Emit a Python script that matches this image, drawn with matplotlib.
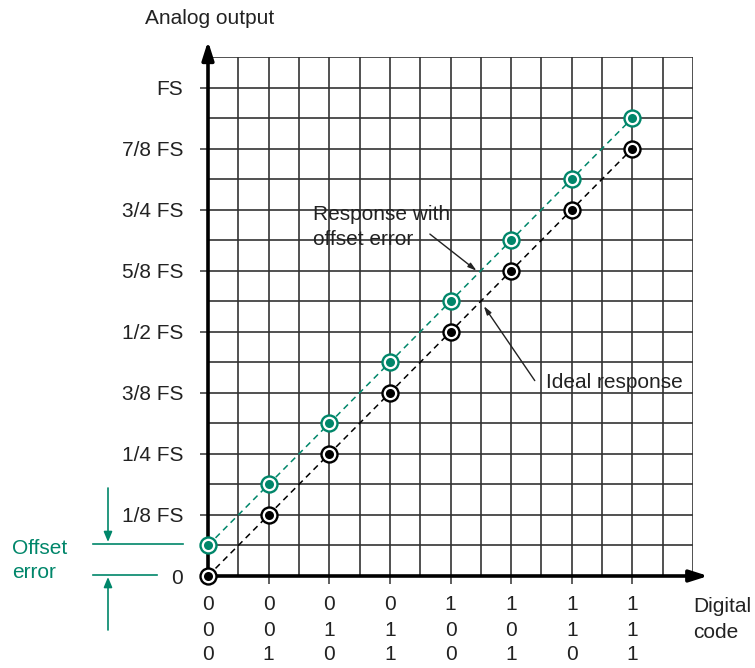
import matplotlib
matplotlib.use("Agg")
import matplotlib.pyplot as plt
from matplotlib.patches import FancyArrowPatch
from matplotlib.lines import Line2D
from matplotlib.transforms import blended_transform_factory

plt.rcParams['font.family'] = ['Liberation Sans', 'DejaVu Sans']

# Digital codes (3-bit) and outputs in units of 1/8 FS
codes = ["000", "001", "010", "011", "100", "101", "110", "111"]
ideal_output = [0, 1, 2, 3, 4, 5, 6, 7]
offset_output = [0.5, 1.5, 2.5, 3.5, 4.5, 5.5, 6.5, 7.5]
y_tick_labels = ["0", "1/8 FS", "1/4 FS", "3/8 FS", "1/2 FS",
                 "5/8 FS", "3/4 FS", "7/8 FS", "FS"]

TEAL = "#00866a"
TXT = "#222222"
FS_TXT = 15

W, H = 755, 668
fig = plt.figure(figsize=(W / 100, H / 100), dpi=100)
x0, x1, y0, y1 = 208, 693, 576, 57
ax = fig.add_axes([x0 / W, (H - y0) / H, (x1 - x0) / W, (y0 - y1) / H])
ax.set_xlim(0, 8)
ax.set_ylim(0, 8.5)
for s in ax.spines.values():
    s.set_visible(False)


def fx(px):
    return px / W


def fy(py):
    return 1 - py / H


# grid every half step
for i in range(1, 17):
    ax.axvline(i * 0.5, color="#333333", lw=1.2, zorder=1)
for j in range(1, 18):
    ax.axhline(j * 0.5, color="#333333", lw=1.2, zorder=1)

# axes with arrowheads
arrow_kw = dict(arrowstyle="-|>,head_length=1.1,head_width=0.35",
                lw=2.6, color="black", shrinkA=0, shrinkB=0)
ax.annotate("", xy=(0, 8.76), xytext=(0, 0), arrowprops=arrow_kw,
            annotation_clip=False, zorder=5)
ax.annotate("", xy=(8.25, 0), xytext=(0, 0), arrowprops=arrow_kw,
            annotation_clip=False, zorder=5)

# ticks and labels
x = list(range(len(codes)))
ax.set_xticks(x)
ax.set_xticklabels([])
ax.set_yticks(range(len(y_tick_labels)))
ax.set_yticklabels(y_tick_labels, fontsize=FS_TXT, color=TXT)
ax.tick_params(axis="both", length=6, width=1.1, color="#333333", direction="out")
ax.tick_params(axis="y", pad=12)

# three-bit code under each tick, one bit per row
bt = blended_transform_factory(ax.transData, fig.transFigure)
row_y = [605, 630, 655]
for xi, code in zip(x, codes):
    for bit, py in zip(code, row_y):
        ax.text(xi, fy(py), bit, transform=bt, fontsize=FS_TXT, color=TXT,
                ha="center", va="center", clip_on=False)

# transfer lines
ax.plot(x, ideal_output, ls=(0, (4, 3)), color="black", lw=1.1, zorder=3)
ax.plot(x, offset_output, ls=(0, (4, 3)), color=TEAL, lw=1.1, zorder=3)

# markers: ring plus filled center
for ys, col in ((ideal_output, "black"), (offset_output, TEAL)):
    ax.plot(x, ys, ls="none", marker="o", ms=11.5, mfc="white", mec=col,
            mew=1.7, zorder=6, clip_on=False)
    ax.plot(x, ys, ls="none", marker="o", ms=6.5, mfc=col, mec=col,
            mew=0, zorder=7, clip_on=False)

# annotations
small_arrow = dict(arrowstyle="-|>,head_length=0.5,head_width=0.15",
                   lw=1.0, color=TXT, shrinkA=0, shrinkB=0)
fig.text(fx(313), fy(215), "Response with", fontsize=FS_TXT, color=TXT,
         ha="left", va="center")
fig.text(fx(313), fy(240), "offset error", fontsize=FS_TXT, color=TXT,
         ha="left", va="center")
ax.annotate("", xy=(4.43, 5.0), xytext=(3.66, 5.6), arrowprops=small_arrow,
            zorder=8)
ax.annotate("", xy=(4.55, 4.42), xytext=(5.39, 3.2), arrowprops=small_arrow,
            zorder=8)
fig.text(fx(546), fy(383), "Ideal response", fontsize=FS_TXT, color=TXT,
         va="center", ha="left")

# axis titles
fig.text(fx(145), fy(18), "Analog output", fontsize=FS_TXT, color=TXT,
         ha="left", va="center")
fig.text(fx(693), fy(606), "Digital", fontsize=FS_TXT, color=TXT,
         ha="left", va="center")
fig.text(fx(693), fy(632), "code", fontsize=FS_TXT, color=TXT,
         ha="left", va="center")

# offset error callout
fig.lines.append(Line2D([fx(93), fx(183)], [fy(544), fy(544)],
                        color=TEAL, lw=1.2, transform=fig.transFigure))
fig.lines.append(Line2D([fx(93), fx(157)], [fy(575), fy(575)],
                        color=TEAL, lw=1.2, transform=fig.transFigure))
fig.patches.append(FancyArrowPatch(
    (fx(108), fy(488)), (fx(108), fy(542)), transform=fig.transFigure,
    arrowstyle="-|>,head_length=6,head_width=2.5", color=TEAL, lw=1.2,
    shrinkA=0, shrinkB=0))
fig.patches.append(FancyArrowPatch(
    (fx(108), fy(630)), (fx(108), fy(577)), transform=fig.transFigure,
    arrowstyle="-|>,head_length=6,head_width=2.5", color=TEAL, lw=1.2,
    shrinkA=0, shrinkB=0))
fig.text(fx(12), fy(548), "Offset", fontsize=FS_TXT, color=TEAL,
         ha="left", va="center")
fig.text(fx(12), fy(573), "error", fontsize=FS_TXT, color=TEAL,
         ha="left", va="center")

fig.savefig("out.png", dpi=100)
